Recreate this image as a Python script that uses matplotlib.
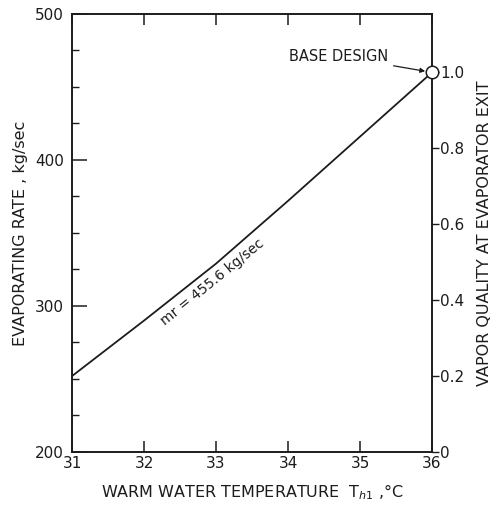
import matplotlib
matplotlib.use("Agg")
import matplotlib.pyplot as plt
from matplotlib.ticker import FixedLocator, MultipleLocator

# Data
temperature = [31, 32, 33, 34, 35, 36]
evaporating_rate = [252, 290, 329, 372, 416, 460]
x_ticks = [31, 32, 33, 34, 35, 36]
left_ticks = [200, 300, 400, 500]
right_ticks = [0, 0.2, 0.4, 0.6, 0.8, 1.0]
right_labels = ["0", "0.2", "0.4", "0.6", "0.8", "1.0"]
base_design = (36, 460)

ink = "#1c1c1c"
plt.rcParams["font.family"] = ["DejaVu Sans"]

fig = plt.figure(figsize=(4.98, 5.07), dpi=100)
ax = fig.add_axes([0.1446, 0.1085, 0.7229, 0.8639])
ax2 = ax.twinx()
ax.set_zorder(ax2.get_zorder() + 1)
ax.patch.set_visible(False)

ax.plot(temperature, evaporating_rate, color=ink, lw=1.3, zorder=3)
ax.plot([base_design[0]], [base_design[1]], marker="o", ms=9, mfc="white",
        mec=ink, mew=1.1, clip_on=False, zorder=5)

ax.set_xlim(31, 36)
ax.set_ylim(200, 500)
ax.xaxis.set_major_locator(FixedLocator(x_ticks))
ax.yaxis.set_major_locator(FixedLocator(left_ticks))
ax.yaxis.set_minor_locator(MultipleLocator(25))

for s in ax.spines.values():
    s.set_linewidth(1.2)
    s.set_color(ink)

ax.tick_params(axis="x", which="major", direction="in", length=8, width=1.1,
               top=True, colors=ink, labelsize=11, pad=3)
ax.tick_params(axis="y", which="major", direction="in", length=11, width=1.1,
               colors=ink, labelsize=11, pad=6)
ax.tick_params(axis="y", which="minor", direction="in", length=5, width=1.0,
               colors=ink)

ax.set_xlabel("WARM WATER TEMPERATURE  T$_{h1}$ ,°C", fontsize=11.5, color=ink,
              labelpad=8)
ax.set_ylabel("EVAPORATING RATE , kg/sec", fontsize=11.5, color=ink, labelpad=5)

ax2.set_ylim(0, 1.153)
ax2.yaxis.set_major_locator(FixedLocator(right_ticks))
ax2.set_yticklabels(right_labels)
ax2.tick_params(axis="y", direction="out", length=5, width=1.0, colors=ink,
                labelsize=11, pad=1)
for s in ax2.spines.values():
    s.set_linewidth(1.2)
    s.set_color(ink)
ax2.set_ylabel("VAPOR QUALITY AT EVAPORATOR EXIT", fontsize=11.5, color=ink,
               labelpad=9)

ax.text(32.95, 316, "mr = 455.6 kg/sec", rotation=39, fontsize=10, color=ink,
        ha="center", va="center", rotation_mode="anchor")

ax.annotate("BASE DESIGN", xy=base_design, xytext=(34.7, 471),
            fontsize=10.5, color=ink, ha="center", va="center",
            arrowprops=dict(arrowstyle="-|>", color=ink, lw=0.9,
                            shrinkA=2, shrinkB=5, mutation_scale=7))

fig.savefig("out.png", dpi=100)
